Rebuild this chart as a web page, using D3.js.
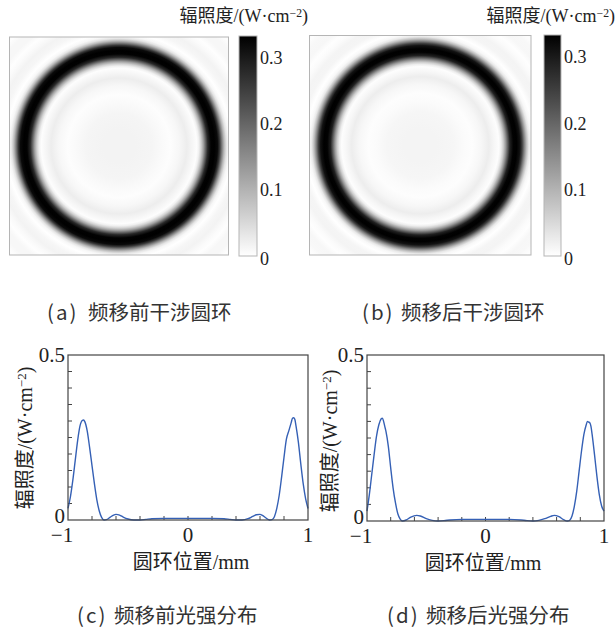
<!DOCTYPE html>
<html>
<head>
<meta charset="utf-8">
<script src="https://cdn.jsdelivr.net/npm/d3@7"></script>
<style>
  body { margin: 0; background: #fff; }
  svg { display: block; }
</style>
</head>
<body>
<svg id="chart" width="616" height="630"></svg>
<script>
// radial profile of the ring images (radius in mm, irradiance in W/cm^2)
const ringRadius = [0, 0.15, 0.3, 0.4, 0.47, 0.55, 0.62, 0.67, 0.71, 0.73, 0.75, 0.77, 0.79, 0.81, 0.84, 0.87, 0.9, 0.92, 0.94, 0.96, 0.98, 1.0, 1.03, 1.08, 1.13, 1.18, 1.22, 1.27, 1.33, 1.38, 1.42];
const ringA = [0.016, 0.016, 0.013, 0.006, 0.002, 0.01, 0.024, 0.012, 0.003, 0.02, 0.06, 0.12, 0.2, 0.28, 0.33, 0.34, 0.32, 0.26, 0.17, 0.09, 0.035, 0.01, 0, 0.012, 0.016, 0.006, 0.001, 0.01, 0.01, 0.002, 0.006];
const ringB = [0.015, 0.015, 0.012, 0.005, 0.002, 0.011, 0.023, 0.011, 0.002, 0.022, 0.065, 0.13, 0.21, 0.29, 0.33, 0.34, 0.31, 0.25, 0.16, 0.085, 0.03, 0.009, 0, 0.013, 0.015, 0.005, 0.001, 0.011, 0.009, 0.002, 0.006];

// line profiles through the centre
const posC = [-1, -0.98, -0.96, -0.94, -0.92, -0.9, -0.88, -0.87, -0.86, -0.84, -0.82, -0.8, -0.78, -0.76, -0.74, -0.72, -0.7, -0.68, -0.65, -0.62, -0.6, -0.57, -0.54, -0.5, -0.45, -0.4, -0.35, -0.3, -0.2, -0.1, 0, 0.1, 0.2, 0.3, 0.35, 0.4, 0.45, 0.5, 0.54, 0.57, 0.6, 0.62, 0.65, 0.68, 0.7, 0.72, 0.74, 0.76, 0.78, 0.8, 0.82, 0.84, 0.86, 0.87, 0.88, 0.89, 0.9, 0.92, 0.94, 0.96, 0.98, 1];
const irrC = [0.035, 0.07, 0.12, 0.18, 0.24, 0.285, 0.302, 0.303, 0.298, 0.27, 0.22, 0.165, 0.11, 0.062, 0.028, 0.008, 0, 0.001, 0.008, 0.015, 0.017, 0.015, 0.009, 0.003, 0, 0, 0.002, 0.004, 0.005, 0.005, 0.005, 0.005, 0.005, 0.004, 0.002, 0, 0, 0.004, 0.011, 0.016, 0.017, 0.014, 0.006, 0, 0.001, 0.01, 0.035, 0.075, 0.13, 0.19, 0.245, 0.27, 0.295, 0.308, 0.31, 0.305, 0.285, 0.235, 0.17, 0.11, 0.065, 0.035];
const posD = [-1, -0.98, -0.96, -0.94, -0.92, -0.9, -0.88, -0.87, -0.86, -0.85, -0.84, -0.82, -0.8, -0.78, -0.76, -0.74, -0.72, -0.7, -0.67, -0.63, -0.58, -0.55, -0.5, -0.45, -0.4, -0.35, -0.3, -0.2, -0.1, 0, 0.1, 0.2, 0.3, 0.35, 0.4, 0.45, 0.5, 0.55, 0.58, 0.62, 0.66, 0.69, 0.71, 0.73, 0.75, 0.77, 0.79, 0.81, 0.83, 0.85, 0.86, 0.87, 0.88, 0.89, 0.9, 0.92, 0.94, 0.96, 0.98, 1];
const irrD = [0.03, 0.08, 0.14, 0.2, 0.255, 0.29, 0.308, 0.31, 0.3, 0.285, 0.27, 0.225, 0.16, 0.1, 0.055, 0.022, 0.006, 0, 0.003, 0.012, 0.017, 0.015, 0.007, 0.002, 0, 0.001, 0.003, 0.005, 0.005, 0.005, 0.005, 0.005, 0.003, 0.001, 0, 0.002, 0.007, 0.014, 0.017, 0.013, 0.004, 0, 0.002, 0.015, 0.045, 0.09, 0.15, 0.21, 0.26, 0.29, 0.3, 0.298, 0.296, 0.285, 0.26, 0.2, 0.135, 0.08, 0.045, 0.03];

const cbTicks = [0, 0.1, 0.2, 0.3];
const xTicks = [-1, 0, 1];
const yTicks = [0, 0.5];
const captionTags = ["(a)", "(b)", "(c)", "(d)"];
const captionTexts = ["频移前干涉圆环", "频移后干涉圆环", "频移前光强分布", "频移后光强分布"];

const serif = "'Liberation Serif', 'Times New Roman', 'Noto Sans CJK SC', serif";
const sans = "'Noto Sans CJK SC', 'Noto Sans', sans-serif";
const ink = "#222";

const svg = d3.select("#chart");
const defs = svg.append("defs");
const gray = d3.scaleLinear().domain([0, 0.333]).range(["#ffffff", "#000000"]).clamp(true);

function unitLabel(sel) {
    sel.text("辐照度/(W·cm");
    sel.append("tspan").attr("dy", "-0.45em").attr("font-size", "0.65em").text("−2");
    sel.append("tspan").attr("dy", "0.3em").text(")");
}

function ringPanel(id, box, cb, values) {
    const size = box.x1 - box.x0;
    const rMax = d3.max(ringRadius);
    const r = d3.scaleLinear().domain([0, 1]).range([0, size / 2]);
    const grad = defs.append("radialGradient")
        .attr("id", id)
        .attr("gradientUnits", "userSpaceOnUse")
        .attr("cx", (box.x0 + box.x1) / 2)
        .attr("cy", (box.y0 + box.y1) / 2)
        .attr("r", r(rMax));
    grad.selectAll("stop")
        .data(ringRadius)
        .enter().append("stop")
        .attr("offset", d => d / rMax)
        .attr("stop-color", (d, i) => gray(values[i]));

    svg.append("rect")
        .attr("x", box.x0).attr("y", box.y0)
        .attr("width", size).attr("height", box.y1 - box.y0)
        .attr("fill", `url(#${id})`)
        .attr("stroke", "#b5b5b5")
        .attr("stroke-width", 1);

    // colour bar
    const cbId = id + "-cb";
    const cbScale = d3.scaleLinear().domain([0, 0.333]).range([cb.y1, cb.y0]);
    const lg = defs.append("linearGradient")
        .attr("id", cbId)
        .attr("x1", 0).attr("y1", 1).attr("x2", 0).attr("y2", 0);
    lg.selectAll("stop")
        .data(d3.range(0, 1.0001, 0.1))
        .enter().append("stop")
        .attr("offset", d => d)
        .attr("stop-color", d => gray(d * 0.333));
    svg.append("rect")
        .attr("x", cb.x0).attr("y", cb.y0)
        .attr("width", cb.x1 - cb.x0).attr("height", cb.y1 - cb.y0)
        .attr("fill", `url(#${cbId})`)
        .attr("stroke", "#b5b5b5")
        .attr("stroke-width", 1);
    svg.append("g")
        .selectAll("text")
        .data(cbTicks)
        .enter().append("text")
        .attr("x", cb.x1 + 3)
        .attr("y", d => cbScale(d) + (d === 0 ? 3 : 0))
        .attr("dy", "0.35em")
        .attr("font-family", serif)
        .attr("font-size", 18)
        .attr("fill", ink)
        .text(d => d === 0 ? "0" : d3.format(".1f")(d));

    svg.append("text")
        .attr("x", cb.titleX)
        .attr("y", 22)
        .attr("text-anchor", "end")
        .attr("font-family", serif)
        .attr("font-size", 18)
        .attr("fill", ink)
        .call(unitLabel);
}

ringPanel("ringA", { x0: 9.5, x1: 228.5, y0: 37, y1: 255 }, { x0: 239, x1: 257, y0: 36, y1: 256, titleX: 308 }, ringA);
ringPanel("ringB", { x0: 309.5, x1: 531, y0: 35.5, y1: 255 }, { x0: 544, x1: 561, y0: 35, y1: 256, titleX: 615 }, ringB);

function profilePanel(box, pos, irr, labelX, labelY, xLabelX) {
    const x = d3.scaleLinear().domain([-1, 1]).range([box.x0, box.x1]);
    const y = d3.scaleLinear().domain([0, 0.5]).range([box.y1, box.y0]);
    const g = svg.append("g");

    // minor ticks, inward
    const yMinor = d3.range(0.05, 0.5, 0.05);
    const xMinor = d3.range(-0.8, 0.81, 0.2);
    g.selectAll(".ytk").data(yMinor).enter().append("line")
        .attr("x1", box.x0).attr("x2", box.x0 + 4)
        .attr("y1", d => y(d)).attr("y2", d => y(d))
        .attr("stroke", "#444").attr("stroke-width", 1);
    g.selectAll(".xtk").data(xMinor).enter().append("line")
        .attr("x1", d => x(d)).attr("x2", d => x(d))
        .attr("y1", box.y1).attr("y2", box.y1 - 4)
        .attr("stroke", "#444").attr("stroke-width", 1);

    const line = d3.line()
        .x((d, i) => x(pos[i]))
        .y(d => y(d))
        .curve(d3.curveMonotoneX);
    g.append("path")
        .datum(irr)
        .attr("d", line)
        .attr("fill", "none")
        .attr("stroke", "#3560b5")
        .attr("stroke-width", 1.4);

    g.append("rect")
        .attr("x", box.x0).attr("y", box.y0)
        .attr("width", box.x1 - box.x0).attr("height", box.y1 - box.y0)
        .attr("fill", "none")
        .attr("stroke", "#444")
        .attr("stroke-width", 1.2);

    // digits centred on the tick, the minus sign hangs to the left
    g.selectAll(".xl").data(xTicks).enter().append("text")
        .attr("x", d => x(d) - (d < 0 ? 6 : 0))
        .attr("y", box.y1 + 22)
        .attr("text-anchor", "middle")
        .attr("font-family", serif)
        .attr("font-size", 21)
        .attr("fill", ink)
        .text(d => d < 0 ? "−" + Math.abs(d) : d);
    g.selectAll(".yl").data(yTicks).enter().append("text")
        .attr("x", box.x0 - 3)
        .attr("y", d => y(d) - (d === 0 ? 4 : 0))
        .attr("dy", "0.35em")
        .attr("text-anchor", "end")
        .attr("font-family", serif)
        .attr("font-size", 21)
        .attr("fill", ink)
        .text(d => d);

    g.append("text")
        .attr("transform", `translate(${labelX},${labelY}) rotate(-90)`)
        .attr("text-anchor", "middle")
        .attr("dy", "0.35em")
        .attr("font-family", serif)
        .attr("font-size", 20)
        .attr("fill", ink)
        .call(unitLabel);

    g.append("text")
        .attr("x", xLabelX)
        .attr("y", box.y1 + 49)
        .attr("text-anchor", "middle")
        .attr("font-family", serif)
        .attr("font-size", 20)
        .attr("fill", ink)
        .text("圆环位置/mm");
}

profilePanel({ x0: 68, x1: 308, y0: 355, y1: 520 }, posC, irrC, 25, 438, 191);
profilePanel({ x0: 367, x1: 604, y0: 355, y1: 521 }, posD, irrD, 330, 441, 483);

// captions: [tag x, text x, y]
const capPos = [[47, 88, 313], [362, 401, 313], [77, 114, 616], [387, 426, 616]];
const cap = svg.append("g")
    .attr("font-family", sans)
    .attr("font-size", 20.5)
    .attr("fill", "#333");
cap.selectAll(".tag").data(captionTags).enter().append("text")
    .attr("x", (d, i) => capPos[i][0])
    .attr("y", (d, i) => capPos[i][2])
    .attr("dy", "0.35em")
    .attr("letter-spacing", 2)
    .text(d => d);
cap.selectAll(".cap").data(captionTexts).enter().append("text")
    .attr("x", (d, i) => capPos[i][1])
    .attr("y", (d, i) => capPos[i][2])
    .attr("dy", "0.35em")
    .text(d => d);
</script>
</body>
</html>
